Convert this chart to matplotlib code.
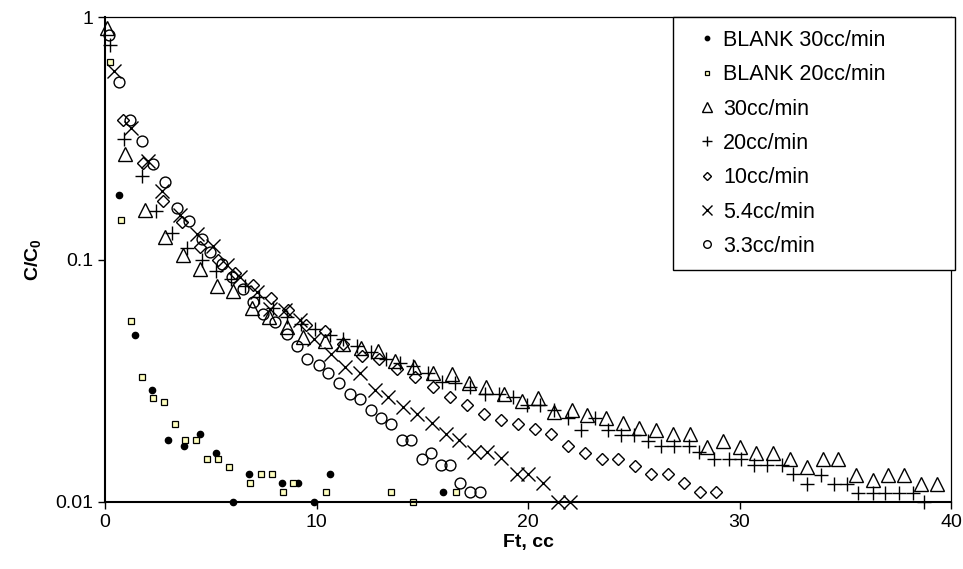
import numpy as np
import matplotlib
matplotlib.use("Agg")
import matplotlib.pyplot as plt

plt.rcParams['font.family'] = ['Liberation Sans', 'DejaVu Sans']
plt.rcParams['mathtext.fontset'] = 'custom'
plt.rcParams['mathtext.rm'] = 'Liberation Sans'
plt.rcParams['mathtext.bf'] = 'Liberation Sans:bold'

# 数据：点 (Ft, C/C0)
blank30_x = [0.66, 1.42, 2.21, 2.96, 3.75, 4.49, 5.26, 6.05, 6.82, 8.35, 9.14, 9.9, 10.64, 16.0]
blank30_y = [0.185, 0.0486, 0.0289, 0.018, 0.017, 0.019, 0.016, 0.010, 0.013, 0.012, 0.012, 0.010, 0.013, 0.011]

blank20_x = [0.24, 0.74, 1.23, 1.75, 2.25, 2.77, 3.29, 3.8, 4.3, 4.82, 5.34, 5.85, 6.87, 7.38, 7.9,
             8.4, 8.9, 10.45, 13.52, 14.55, 16.6]
blank20_y = [0.653, 0.146, 0.0556, 0.0329, 0.0269, 0.0258, 0.021, 0.018, 0.018, 0.015, 0.015, 0.014, 0.012,
             0.013, 0.013, 0.011, 0.012, 0.011, 0.011, 0.010, 0.011]

q30_x = [0.08, 0.95, 1.89, 2.84, 3.7, 4.49, 5.3, 6.07, 6.93, 7.75, 8.59, 9.36, 10.4, 11.27, 12.1, 12.9,
         13.7, 14.6, 15.5, 16.4, 17.2, 18.0, 18.85, 19.7, 20.45, 21.23, 22.07, 22.8, 23.7, 24.5, 25.26,
         26.05, 26.84, 27.66, 28.45, 29.24, 30.0, 30.78, 31.57, 32.4, 33.17, 33.93, 34.67, 35.5, 36.3,
         37.04, 37.8, 38.6, 39.36]
q30_y = [0.90, 0.273, 0.16, 0.124, 0.104, 0.0917, 0.078, 0.074, 0.063, 0.058, 0.0525, 0.048, 0.046,
         0.0447, 0.043, 0.042, 0.038, 0.036, 0.034, 0.0336, 0.031, 0.0298, 0.028, 0.026, 0.0268, 0.0235,
         0.0239, 0.0228, 0.0223, 0.0211, 0.0201, 0.0199, 0.019, 0.019, 0.0169, 0.0179, 0.0169, 0.016,
         0.016, 0.015, 0.014, 0.015, 0.015, 0.0129, 0.0123, 0.0129, 0.0129, 0.0119, 0.0119]

q20_x = [0.24, 0.9, 1.73, 2.41, 3.15, 3.86, 4.57, 5.25, 5.95, 6.62, 7.3, 7.95, 8.6, 9.25, 9.95, 10.64,
         11.24, 11.93, 12.56, 13.29, 13.95, 14.58, 15.29, 15.92, 16.55, 17.26, 17.97, 18.64, 19.3, 19.93,
         20.57, 21.23, 21.9, 22.5, 23.15, 23.77, 24.4, 25.0, 25.66, 26.3, 26.9, 27.6, 28.1, 28.8, 29.5,
         30.05, 30.7, 31.3, 32.0, 32.55, 33.2, 33.84, 34.47, 35.07, 35.6, 36.3, 36.9, 37.56, 38.2, 38.7]
q20_y = [0.77, 0.314, 0.22, 0.158, 0.129, 0.112, 0.0994, 0.09, 0.083, 0.078, 0.07, 0.063, 0.058, 0.054,
         0.0515, 0.049, 0.0472, 0.0438, 0.0416, 0.039, 0.0373, 0.0363, 0.034, 0.0313, 0.031, 0.0297,
         0.0278, 0.0278, 0.027, 0.0251, 0.0251, 0.0239, 0.0221, 0.0198, 0.0221, 0.0199, 0.0189, 0.0189,
         0.0179, 0.017, 0.017, 0.017, 0.0161, 0.015, 0.015, 0.015, 0.0142, 0.0142, 0.0142, 0.013, 0.0119,
         0.0129, 0.0119, 0.0119, 0.0109, 0.0109, 0.0109, 0.0109, 0.0109, 0.010]

q10_x = [0.84, 1.81, 2.73, 3.63, 4.48, 5.32, 6.17, 7.01, 7.83, 8.67, 9.5, 10.4, 11.27, 12.14, 12.97,
         13.79, 14.66, 15.5, 16.3, 17.13, 17.92, 18.72, 19.54, 20.33, 21.1, 21.9, 22.7, 23.48, 24.27,
         25.06, 25.8, 26.6, 27.36, 28.13, 28.9]
q10_y = [0.377, 0.251, 0.175, 0.1426, 0.113, 0.100, 0.088, 0.0787, 0.0696, 0.0617, 0.0535, 0.0507,
         0.0447, 0.0399, 0.0387, 0.0355, 0.0328, 0.0298, 0.027, 0.0251, 0.023, 0.0218, 0.021, 0.020,
         0.019, 0.017, 0.016, 0.015, 0.015, 0.0141, 0.013, 0.013, 0.012, 0.011, 0.011]

q54_x = [0.43, 1.21, 2.05, 2.68, 3.55, 4.36, 5.12, 5.75, 6.38, 7.17, 7.8, 8.5, 9.22, 9.9, 10.67, 11.35,
         12.06, 12.77, 13.4, 14.1, 14.77, 15.45, 16.12, 16.75, 17.45, 18.08, 18.7, 19.46, 20.0, 20.7,
         21.4, 22.0]
q54_y = [0.60, 0.35, 0.2545, 0.192, 0.152, 0.128, 0.114, 0.0947, 0.0846, 0.0734, 0.0627, 0.0617,
         0.0561, 0.047, 0.0406, 0.036, 0.0339, 0.0291, 0.027, 0.0247, 0.023, 0.0211, 0.019, 0.018,
         0.0161, 0.0161, 0.0152, 0.0131, 0.0131, 0.012, 0.010, 0.010]

q33_x = [0.2, 0.68, 1.18, 1.73, 2.25, 2.84, 3.42, 3.99, 4.57, 4.96, 5.52, 5.99, 6.54, 7.01, 7.49, 8.04,
         8.59, 9.08, 9.57, 10.1, 10.56, 11.08, 11.6, 12.06, 12.56, 13.05, 13.5, 14.02, 14.45, 14.97,
         15.41, 15.89, 16.3, 16.78, 17.26, 17.73]
q33_y = [0.843, 0.542, 0.377, 0.309, 0.247, 0.208, 0.163, 0.1435, 0.1216, 0.107, 0.0959, 0.0846,
         0.0757, 0.0667, 0.0598, 0.0552, 0.0494, 0.0438, 0.039, 0.0366, 0.0339, 0.031, 0.028, 0.0267,
         0.0239, 0.0223, 0.021, 0.018, 0.018, 0.015, 0.016, 0.0142, 0.0142, 0.012, 0.011, 0.011]

fig = plt.figure(figsize=(9.63, 5.69), dpi=100)
ax = fig.add_axes([105 / 963, 1 - 502 / 569, 846 / 963, 485 / 569])

open_kw = dict(linestyle='none', markerfacecolor='none', markeredgecolor='black',
               markeredgewidth=1.0, clip_on=False)
ax.plot(blank30_x, blank30_y, 'o', color='black', markersize=4.5, linestyle='none',
        clip_on=False, label='BLANK 30cc/min')
ax.plot(blank20_x, blank20_y, 's', markerfacecolor='#ffffc0', markeredgecolor='black',
        markeredgewidth=0.9, markersize=4.5, linestyle='none', clip_on=False,
        label='BLANK 20cc/min')
ax.plot(q30_x, q30_y, '^', markersize=9.5, label='30cc/min', **open_kw)
ax.plot(q20_x, q20_y, '+', markersize=10, color='black', linestyle='none',
        markeredgewidth=1.0, clip_on=False, label='20cc/min')
ax.plot(q10_x, q10_y, 'D', markersize=6.3, label='10cc/min', **open_kw)
ax.plot(q54_x, q54_y, 'x', markersize=9.5, color='black', linestyle='none',
        markeredgewidth=1.0, clip_on=False, label='5.4cc/min')
ax.plot(q33_x, q33_y, 'o', markersize=7.8, label='3.3cc/min', **open_kw)

ax.set_yscale('log')
ax.set_xlim(0, 40)
ax.set_ylim(0.01, 1)
ax.set_xticks([0, 10, 20, 30, 40])
ax.set_yticks([0.01, 0.1, 1])
ax.set_yticklabels(['0.01', '0.1', '1'])
ax.minorticks_off()
ax.tick_params(labelsize=14, length=5, width=1, direction='out')

for side in ['left', 'bottom']:
    ax.spines[side].set_linewidth(1.5)
for side in ['top', 'right']:
    ax.spines[side].set_linewidth(0.9)

ax.set_xlabel('Ft, cc', fontsize=14, fontweight='bold', labelpad=2)
ax.set_ylabel(r'C/C$_{\mathbf{0}}$', fontsize=14, fontweight='bold', labelpad=8)

# 图例框比文字宽（原图右侧留白），用 expand 撑开
leg = ax.legend(loc='upper right', bbox_to_anchor=(0.671, 0.0, 0.3337, 1.0), mode='expand',
                fontsize=15.5, frameon=True, fancybox=False, edgecolor='black', framealpha=1,
                markerscale=0.7, handlelength=2.0, handletextpad=-0.26, labelspacing=0.62,
                borderpad=0.6, borderaxespad=0)
leg.get_frame().set_linewidth(1.0)

fig.savefig('out.png', dpi=100)
